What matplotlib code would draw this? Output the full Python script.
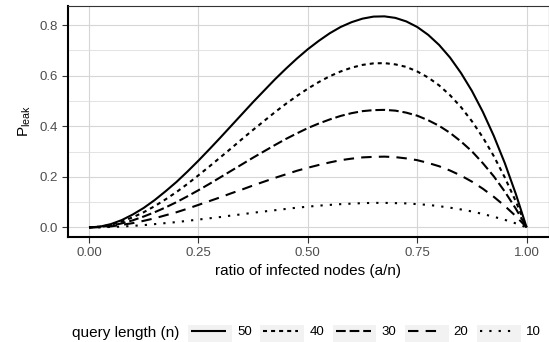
#!/usr/bin/env python3
# -*- coding: utf-8 -*-

import matplotlib
matplotlib.use("Agg")
import matplotlib.pyplot as plt
from matplotlib.patches import Rectangle
from matplotlib.lines import Line2D

# ratio of infected nodes (a/n), every 0.025
ratio = [0.000, 0.025, 0.050, 0.075, 0.100, 0.125, 0.150, 0.175, 0.200, 0.225,
         0.250, 0.275, 0.300, 0.325, 0.350, 0.375, 0.400, 0.425, 0.450, 0.475,
         0.500, 0.525, 0.550, 0.575, 0.600, 0.625, 0.650, 0.675, 0.700, 0.725,
         0.750, 0.775, 0.800, 0.825, 0.850, 0.875, 0.900, 0.925, 0.950, 0.975,
         1.000]

# P_leak per query length
p_50 = [0, 0.003, 0.013, 0.029, 0.051, 0.077, 0.108, 0.143, 0.180, 0.221,
        0.264, 0.309, 0.355, 0.402, 0.449, 0.496, 0.541, 0.586, 0.628, 0.668,
        0.705, 0.738, 0.768, 0.793, 0.812, 0.826, 0.834, 0.835, 0.829, 0.815,
        0.793, 0.762, 0.722, 0.672, 0.611, 0.540, 0.457, 0.362, 0.255, 0.134,
        0]
p_40 = [0, 0.003, 0.010, 0.023, 0.040, 0.060, 0.084, 0.111, 0.140, 0.172,
        0.206, 0.241, 0.277, 0.313, 0.350, 0.386, 0.421, 0.456, 0.489, 0.520,
        0.549, 0.575, 0.598, 0.617, 0.632, 0.643, 0.649, 0.650, 0.645, 0.635,
        0.617, 0.593, 0.562, 0.523, 0.476, 0.420, 0.356, 0.282, 0.198, 0.104,
        0]
p_30 = [0, 0.002, 0.007, 0.016, 0.028, 0.043, 0.060, 0.079, 0.100, 0.123,
        0.147, 0.172, 0.198, 0.224, 0.250, 0.276, 0.301, 0.326, 0.350, 0.372,
        0.393, 0.411, 0.427, 0.441, 0.452, 0.460, 0.464, 0.465, 0.462, 0.454,
        0.442, 0.424, 0.402, 0.374, 0.340, 0.301, 0.254, 0.202, 0.142, 0.075,
        0]
p_20 = [0, 0.001, 0.004, 0.010, 0.017, 0.026, 0.036, 0.048, 0.060, 0.074,
        0.089, 0.104, 0.119, 0.135, 0.150, 0.166, 0.181, 0.196, 0.210, 0.224,
        0.236, 0.247, 0.257, 0.266, 0.272, 0.277, 0.279, 0.280, 0.278, 0.273,
        0.266, 0.255, 0.242, 0.225, 0.205, 0.181, 0.153, 0.121, 0.085, 0.045,
        0]
p_10 = [0, 0.000, 0.002, 0.003, 0.006, 0.009, 0.013, 0.017, 0.021, 0.026,
        0.031, 0.036, 0.041, 0.047, 0.052, 0.058, 0.063, 0.068, 0.073, 0.078,
        0.082, 0.086, 0.089, 0.092, 0.094, 0.096, 0.097, 0.097, 0.096, 0.095,
        0.092, 0.089, 0.084, 0.078, 0.071, 0.063, 0.053, 0.042, 0.030, 0.016,
        0]

query_lengths = ["50", "40", "30", "20", "10"]
series = [p_50, p_40, p_30, p_20, p_10]
# dash patterns in points (ggplot: solid, short dash, longdash, dashed, dotted)
dash_styles = [None, (2.9, 2.9), (7.0, 2.8), (7.5, 5.2), (1.6, 5.1)]

x_ticks = [0.0, 0.25, 0.5, 0.75, 1.0]
x_ticklabels = ["0.00", "0.25", "0.50", "0.75", "1.00"]
y_ticks = [0.0, 0.2, 0.4, 0.6, 0.8]
y_minor = [0.1, 0.3, 0.5, 0.7]

plt.rcParams['font.family'] = ['Liberation Sans', 'DejaVu Sans']
plt.rcParams['lines.scale_dashes'] = False

W, H = 549, 342
fig = plt.figure(figsize=(W / 100, H / 100), dpi=100)
fig.patch.set_facecolor("white")

# panel in pixel coordinates (left, top, right, bottom)
pl, pt, pr, pb = 68, 6, 548.5, 237
ax = fig.add_axes([pl / W, (H - pb) / H, (pr - pl) / W, (pb - pt) / H])

lw = 1.5
for vals, dash in zip(series, dash_styles):
    line, = ax.plot(ratio, vals, color="black", lw=lw, solid_capstyle="butt",
                    dash_capstyle="butt", solid_joinstyle="round")
    if dash is not None:
        line.set_dashes(dash)

ax.set_xlim(-0.048, 1.05)
ax.set_ylim(-0.038, 0.876)

ax.set_xticks(x_ticks)
ax.set_xticklabels(x_ticklabels)
ax.set_yticks(y_ticks)
ax.set_yticks(y_minor, minor=True)
ax.tick_params(axis="both", which="major", length=4, width=0.8, color="#333333",
               labelsize=9.5, labelcolor="#4d4d4d", pad=3)
ax.tick_params(axis="y", which="minor", length=0)

ax.grid(which="major", color="#d6d6d6", lw=0.8)
ax.grid(which="minor", axis="y", color="#dedede", lw=0.6)
ax.set_axisbelow(True)

for side in ["top", "right"]:
    ax.spines[side].set_color("#333333")
    ax.spines[side].set_linewidth(0.8)
for side in ["left", "bottom"]:
    ax.spines[side].set_color("black")
    ax.spines[side].set_linewidth(1.5)

ax.set_xlabel("ratio of infected nodes (a/n)", fontsize=11, labelpad=4)
ax.set_ylabel(r"$\mathregular{P_{leak}}$", fontsize=11, labelpad=5)

# legend at the bottom, drawn by hand so the keys get their grey boxes
def px(x, y):
    return x / W, (H - y) / H

leg_y = 333
fig.text(*px(72, leg_y), "query length (n)", fontsize=11, ha="left", va="center")
key_x0, key_step, key_w, key_h = 188, 72.25, 44, 17
for i, (lab, dash) in enumerate(zip(query_lengths, dash_styles)):
    kx = key_x0 + i * key_step
    bx, by = px(kx, leg_y + key_h / 2 + 0.5)
    fig.patches.append(Rectangle((bx, by), key_w / W, key_h / H,
                                 transform=fig.transFigure,
                                 facecolor="#f2f2f2", edgecolor="none"))
    lx0, ly = px(kx + 3, leg_y - 2)
    lx1, _ = px(kx + 38, leg_y - 2)
    ln = Line2D([lx0, lx1], [ly, ly], transform=fig.transFigure, color="black",
                lw=lw, solid_capstyle="butt", dash_capstyle="butt")
    if dash is not None:
        ln.set_dashes(dash)
    fig.lines.append(ln)
    fig.text(*px(kx + key_w + 5, leg_y - 1), lab, fontsize=9.5, color="black",
             ha="left", va="center")

fig.savefig("out.png", dpi=100)
